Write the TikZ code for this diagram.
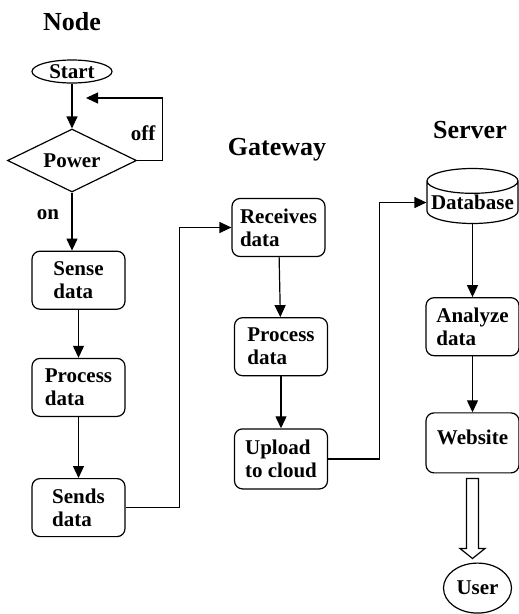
\documentclass[tikz,border=0pt]{standalone}
\usepackage{fontspec}
\setmainfont{Liberation Serif}
\usetikzlibrary{shapes.geometric}
\usetikzlibrary{positioning}
\usetikzlibrary{arrows.meta}
\usetikzlibrary{calc}
\tikzset{	node distance=50pt,
	every node/.style={
		font=\bfseries\fontsize{21}{23}\selectfont},
	title/.style={
		font=\bfseries\fontsize{26}{30}\selectfont},
	box/.style={
		draw, line width=1.2pt,
		rounded corners=8pt,
		align=left, inner sep=2pt,
		minimum width=93pt, minimum height=58pt},
	terminal/.style={
		draw, ellipse, line width=1.2pt,
		inner sep=0pt, text height=13pt, text depth=0pt},
	decision/.style={
		draw, diamond, aspect=2, line width=1.2pt,
		inner sep=0pt, minimum width=129pt, minimum height=63pt},
	store/.style={
		draw, cylinder, shape border rotate=90, aspect=0.3,
		line width=1.2pt, inner sep=0pt,
		minimum width=91pt, minimum height=55pt},
	>={Triangle[length=12pt,width=11pt]},
	flow/.style={
		draw, line width=1.2pt, ->}
}

\begin{document}
\begin{tikzpicture}[x=1pt,y=-1pt]
	\useasboundingbox (0,0) rectangle (519,614);
	% node side
	\node[title] (nodetitle) at (72,22) {Node};
	\node[terminal, minimum width=80pt, minimum height=23pt] (start) at (72,71.5) {Start};
	\node[decision] (power) at (72,160.5) {Power};
	\node[box, below=58pt of power, xshift=6.5pt] (sense) {Sense\\data};
	\node[box, below=48pt of sense] (process1) {Process\\data};
	\node[box, below=61pt of process1] (sends) {Sends\\data};
	\coordinate (offend) at (86,98);
	\node (offlabel) at (143,133) {off};
	\node (onlabel) at (48,215) {on};
	% gateway
	\node[title] (gatewaytitle) at (277,150) {Gateway};
	\node[box] (receives) at (278.5,227.5) {Receives\\data};
	\node[box, below=60pt of receives, xshift=2.5pt] (process2) {Process\\data};
	\node[box, below=52pt of process2, minimum height=60pt] (upload) {Upload\\to cloud};
	% server
	\node[title] (servertitle) at (470,130) {Server};
	\node[store] (database) at (472.5,202.5) {Database};
	\node[box, below=73pt of database.south] (analyze) {Analyze\\data};
	\node[box, below=56pt of analyze, minimum height=60pt, text depth=12pt] (website) {Website};
	\node[terminal, below=89pt of website, xshift=5pt, minimum width=68pt, minimum height=50pt] (user) {User};

	\draw[flow] (start) -- (power);
	\draw[flow] (power.east) -- ++(25,0) |- (offend);
	\draw[flow] (power.south) -- (power.south |- sense.north);
	\draw[flow] (sense) -- (process1);
	\draw[flow] (process1) -- (sends);
	\draw[flow] (sends.east) -- ++(54,0) |- (receives.west);
	\draw[flow] (receives) -- (process2);
	\draw[flow] (process2) -- (upload);
	\draw[flow] (upload.east) -- ++(51,0) |- (database.west);
	\draw[flow] (database) -- (analyze);
	\draw[flow] (analyze) -- (website);
	\draw[line width=1.2pt] ($(website.south)+(-6,5)$) -- ++(0,70) -- ++(-6.5,0)
		-- ($(website.south)+(0,85)$) -- ($(website.south)+(12.5,75)$)
		-- ++(-6.5,0) -- ($(website.south)+(6,5)$) -- cycle;
\end{tikzpicture}
\end{document}
